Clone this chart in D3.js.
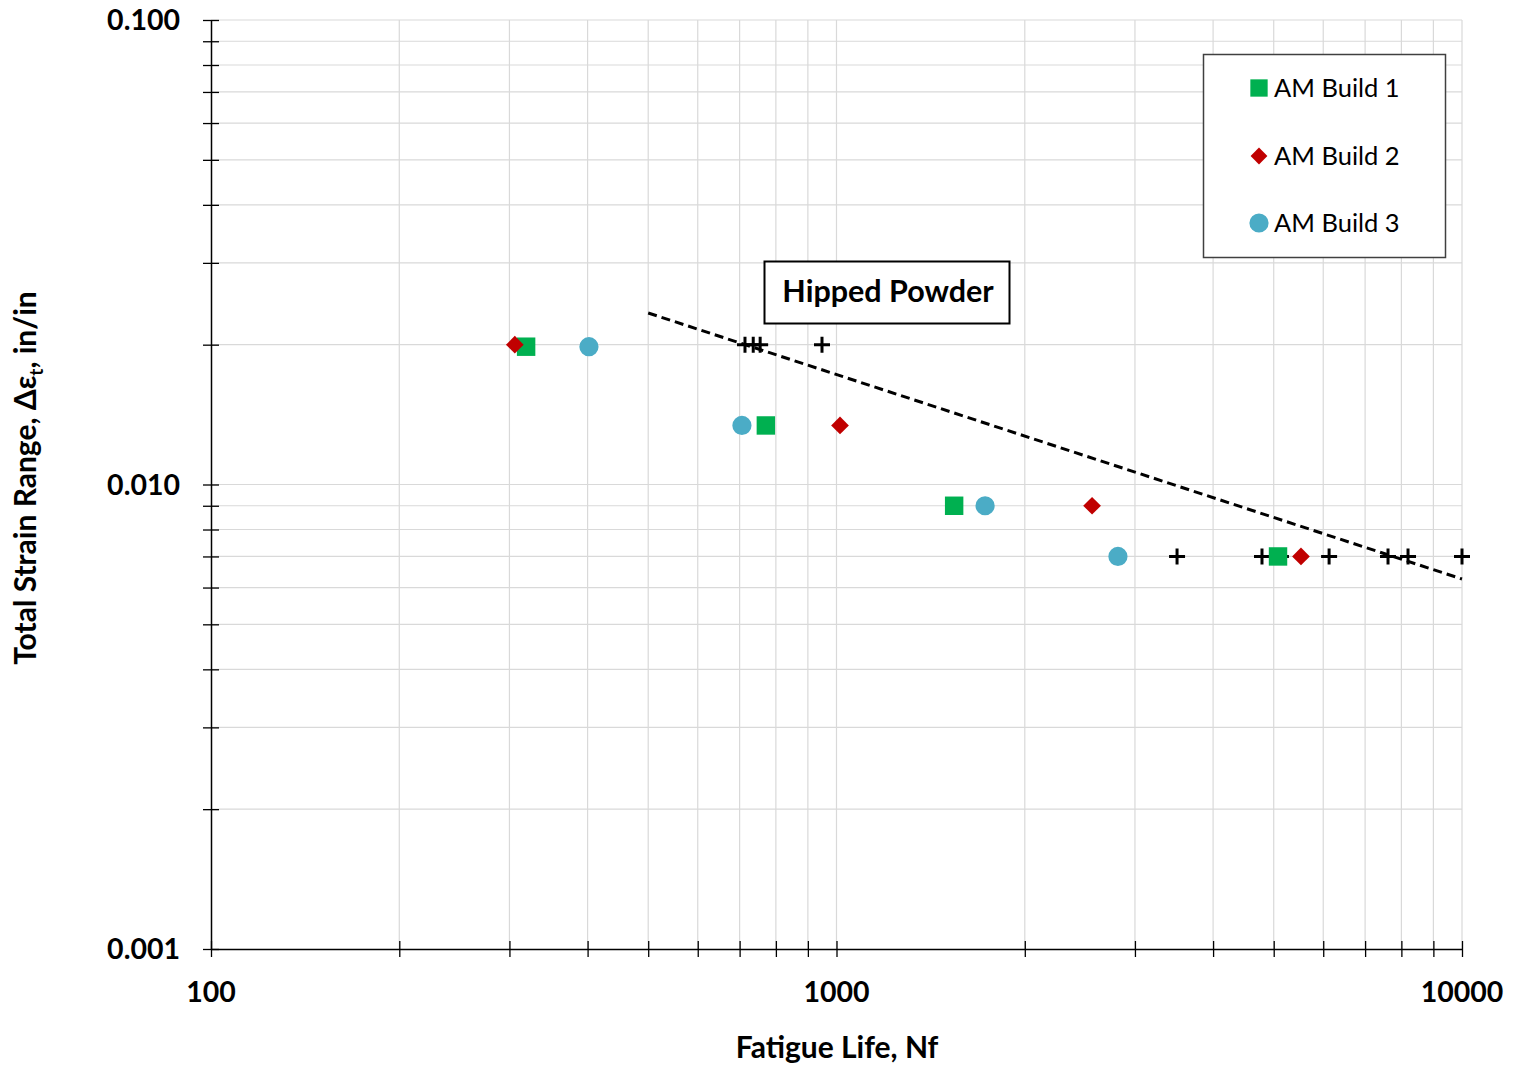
<!DOCTYPE html>
<html><head><meta charset="utf-8">
<script src="https://cdn.jsdelivr.net/npm/d3@7"></script>
<style>
body{margin:0;background:#fff;}
text{font-family:Lato,"Open Sans",sans-serif;}
</style></head>
<body><svg id="c" width="1513" height="1066"></svg>
<script>
// ---- data ----
const build1N = [319, 771, 1542, 5080];
const build1S = [0.0198, 0.0134, 0.0090, 0.0070];
const build2N = [306, 1013, 2562, 5528];
const build2S = [0.0200, 0.0134, 0.0090, 0.0070];
const build3N = [402, 706, 1728, 2818];
const build3S = [0.0198, 0.0134, 0.0090, 0.0070];
const hipN = [714, 736, 755, 948, 3503, 4789, 5135, 6131, 7616, 8198, 10000];
const hipS = [0.020, 0.020, 0.020, 0.020, 0.007, 0.007, 0.007, 0.007, 0.007, 0.007, 0.007];
const trendN = [500, 10000];
const trendS = [0.0234, 0.00626];
const xTickLabels = ["100", "1000", "10000"];
const yTickLabels = ["0.001", "0.010", "0.100"];
const seriesNames = ["AM Build 1", "AM Build 2", "AM Build 3"];

const svg = d3.select("#c");
const L = 211, R = 1462, T = 20, B = 949;
const x = d3.scaleLog().domain([100, 10000]).range([L, R]);
const y = d3.scaleLog().domain([0.001, 0.1]).range([B, T]);

// minor ticks
const xMinor = [], yMinor = [];
[100, 1000].forEach(d => { for (let k = 1; k <= 9; k++) xMinor.push(d * k); });
xMinor.push(10000);
[0.001, 0.01].forEach(d => { for (let k = 1; k <= 9; k++) yMinor.push(+(d * k).toPrecision(3)); });
yMinor.push(0.1);

// gridlines
const g = svg.append("g");
g.selectAll(".vg").data(xMinor.filter(d => d > 100)).join("line")
  .attr("x1", d => x(d)).attr("x2", d => x(d)).attr("y1", T).attr("y2", B)
  .attr("stroke", "#d9d9d9").attr("stroke-width", 1.2);
g.selectAll(".hg").data(yMinor.filter(d => d > 0.001)).join("line")
  .attr("x1", L).attr("x2", R).attr("y1", d => y(d)).attr("y2", d => y(d))
  .attr("stroke", "#d9d9d9").attr("stroke-width", 1.2);

// axes
const xAxis = d3.axisBottom(x).tickValues(xMinor).tickSize(8).tickFormat("");
const yAxis = d3.axisLeft(y).tickValues(yMinor).tickSize(8).tickFormat("");
const gx = svg.append("g").attr("transform", `translate(0,${B})`).call(xAxis);
const gy = svg.append("g").attr("transform", `translate(${L},0)`).call(yAxis);
[gx, gy].forEach(a => {
  a.select(".domain").attr("stroke", "#000").attr("stroke-width", 1.5);
  a.selectAll(".tick line").attr("stroke", "#000").attr("stroke-width", 1.3);
});
gx.selectAll(".tick line").attr("y1", -8);
gy.selectAll(".tick line").attr("x1", 8);
gx.select(".domain").attr("d", `M${L},0.5H${R}`);
gy.select(".domain").attr("d", `M0.5,${T}V${B}`);

// tick labels
svg.selectAll(".xl").data([100, 1000, 10000]).join("text")
  .attr("x", d => x(d)).attr("y", 1002).attr("text-anchor", "middle")
  .attr("font-size", 28.5).attr("font-weight", "bold").text((d, i) => xTickLabels[i]);
svg.selectAll(".yl").data([0.001, 0.01, 0.1]).join("text")
  .attr("x", 180).attr("y", d => y(d) + 10).attr("text-anchor", "end")
  .attr("font-size", 28.5).attr("font-weight", "bold").text((d, i) => yTickLabels[i]);

// axis titles
svg.append("text").attr("x", 837).attr("y", 1058).attr("text-anchor", "middle")
  .attr("font-size", 30).attr("font-weight", "bold").text("Fatigue Life, Nf");
const yt = svg.append("text").attr("transform", "translate(36,478) rotate(-90)")
  .attr("text-anchor", "middle").attr("font-size", 30).attr("font-weight", "bold");
yt.append("tspan").text("Total Strain Range, \u0394\u03b5");
yt.append("tspan").attr("font-size", 19).attr("dy", 7).text("t");
yt.append("tspan").attr("dy", -7).text(", in/in");

// trend line
const line = d3.line().x(d => x(d[0])).y(d => y(d[1]));
svg.append("path").datum(trendN.map((n, i) => [n, trendS[i]]))
  .attr("d", line).attr("fill", "none").attr("stroke", "#000")
  .attr("stroke-width", 3).attr("stroke-dasharray", "9,5");

// hipped powder crosses
svg.selectAll(".hp").data(hipN.map((n, i) => [n, hipS[i]])).join("path")
  .attr("d", d => `M${x(d[0]) - 8},${y(d[1])}H${x(d[0]) + 8}M${x(d[0])},${y(d[1]) - 8}V${y(d[1]) + 8}`)
  .attr("stroke", "#000").attr("stroke-width", 3);

// series
const green = "#00b050", red = "#c00000", blue = "#4bacc6";
const sq = d3.symbol().type(d3.symbolSquare).size(340);
const di = d3.symbol().type(d3.symbolDiamond2).size(200);
const ci = d3.symbol().type(d3.symbolCircle).size(290);
svg.selectAll(".b1").data(build1N.map((n, i) => [n, build1S[i]])).join("path")
  .attr("d", sq).attr("fill", green).attr("transform", d => `translate(${x(d[0])},${y(d[1])})`);
svg.selectAll(".b2").data(build2N.map((n, i) => [n, build2S[i]])).join("path")
  .attr("d", di).attr("fill", red).attr("transform", d => `translate(${x(d[0])},${y(d[1])})`);
svg.selectAll(".b3").data(build3N.map((n, i) => [n, build3S[i]])).join("path")
  .attr("d", ci).attr("fill", blue).attr("transform", d => `translate(${x(d[0])},${y(d[1])})`);

// annotation box
svg.append("rect").attr("x", 764.5).attr("y", 261.5).attr("width", 245).attr("height", 62)
  .attr("fill", "#fff").attr("stroke", "#000").attr("stroke-width", 2);
svg.append("text").attr("x", 888).attr("y", 302).attr("text-anchor", "middle")
  .attr("font-size", 30.5).attr("font-weight", "bold").text("Hipped Powder");

// legend
const lg = svg.append("g");
lg.append("rect").attr("x", 1203.5).attr("y", 54.5).attr("width", 242).attr("height", 203)
  .attr("fill", "#fff").attr("stroke", "#404040").attr("stroke-width", 1.5);
const syms = [d3.symbol().type(d3.symbolSquare).size(300), d3.symbol().type(d3.symbolDiamond2).size(180), d3.symbol().type(d3.symbolCircle).size(290)];
const cols = [green, red, blue];
const ly = [88, 156, 223];
seriesNames.forEach((s, i) => {
  lg.append("path").attr("d", syms[i]()).attr("fill", cols[i]).attr("transform", `translate(1259,${ly[i]})`);
  lg.append("text").attr("x", 1274).attr("y", ly[i] + 9).attr("font-size", 25.5).attr("fill", "#000").text(s);
});
</script></body></html>
